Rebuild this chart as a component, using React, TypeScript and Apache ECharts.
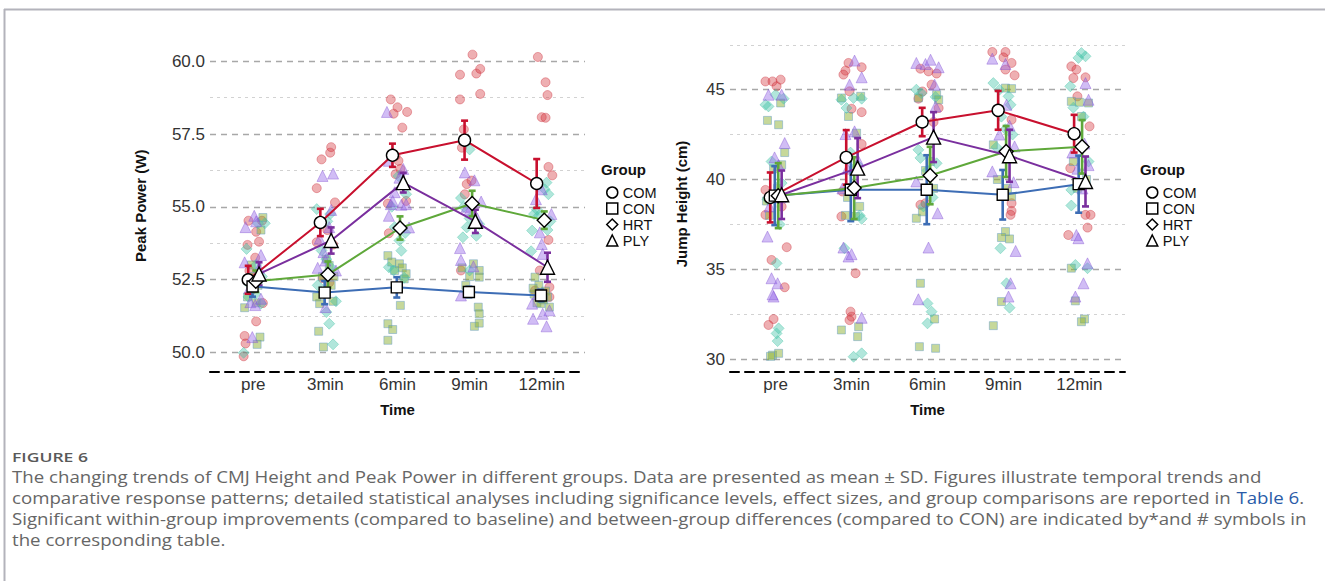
import React, { useEffect, useRef } from "react";
import * as echarts from "echarts";

// ---------- categories / groups ----------
const timePoints = ["pre", "3min", "6min", "9min", "12min"];
const groups = ["COM", "CON", "HRT", "PLY"];

// ---------- Peak Power (W): group means and SDs ----------
const ppMeanCOM = [52.49, 54.46, 56.77, 57.29, 55.8];
const ppMeanCON = [52.26, 52.05, 52.23, 52.07, 51.95];
const ppMeanHRT = [52.44, 52.67, 54.27, 55.11, 54.54];
const ppMeanPLY = [52.69, 53.84, 55.83, 54.5, 52.92];
const ppSdCOM = [0.48, 0.47, 0.4, 0.67, 0.84];
const ppSdCON = [0.35, 0.4, 0.35, 0.18, 0.2];
const ppSdHRT = [0.37, 0.45, 0.4, 0.44, 0.3];
const ppSdPLY = [0.4, 0.45, 0.34, 0.4, 0.5];

// ---------- Jump Height (cm): group means and SDs ----------
const jhMeanCOM = [39.0, 41.23, 43.2, 43.85, 42.55];
const jhMeanCON = [39.1, 39.43, 39.43, 39.15, 39.74];
const jhMeanHRT = [39.1, 39.52, 40.22, 41.56, 41.82];
const jhMeanPLY = [39.15, 40.63, 42.36, 41.32, 39.89];
const jhSdCOM = [1.39, 1.52, 0.79, 1.08, 1.05];
const jhSdCON = [1.64, 1.75, 1.92, 1.38, 1.59];
const jhSdHRT = [1.81, 1.72, 1.6, 1.42, 1.49];
const jhSdPLY = [1.35, 1.67, 1.39, 1.45, 1.39];

// ---------- individual points: [jitter (1/75 category), value] per time point ----------
const ppPtsCOM = [
  [[-5, 54.52], [9, 54.52], [3, 54.14], [6, 53.8], [-6, 53.69], [2, 53.25], [10, 51.69], [3, 51.06], [-9, 50.56], [-8, 50.3], [-10, 49.86], [-4, 52.8]],
  [[6, 57.05], [5, 56.86], [-4, 56.63], [-9, 55.64], [10, 55.15], [-6, 54.5], [2, 54.2], [-9, 53.78], [8, 53.7], [-3, 52.55], [4, 52.4]],
  [[-7, 58.69], [0, 58.42], [10, 58.26], [-4, 58.2], [5, 57.72], [-2, 56.75], [1, 56.58], [-2, 56.12], [-10, 55.11], [9, 55.2], [-9, 54.09], [3, 56.3]],
  [[3, 60.23], [-10, 59.54], [7, 59.58], [11, 59.74], [11, 58.88], [-10, 58.69], [-6, 57.66], [-8, 57.03], [-5, 55.43], [-3, 55.78], [-9, 52.81], [2, 55.9]],
  [[-4, 60.15], [4, 59.28], [6, 58.84], [0, 58.08], [4, 58.06], [7, 56.37], [11, 56.08], [7, 53.86], [-2, 52.81], [8, 52.24], [8, 51.9], [-7, 52.12]],
];
const ppPtsCON = [
  [[10, 54.63], [8, 54.2], [-9, 51.53], [3, 51.7], [7, 50.52], [4, 50.27], [-2, 53.0], [5, 52.3], [-6, 51.9], [1, 52.6]],
  [[-6, 51.67], [-7, 50.72], [-2, 50.18], [8, 51.75], [4, 52.98], [-3, 52.6], [6, 52.3], [-9, 51.9], [1, 53.2], [9, 52.6]],
  [[-10, 53.32], [2, 53.04], [-3, 52.81], [7, 52.52], [3, 51.61], [-10, 50.98], [-5, 50.78], [-10, 50.41], [5, 52.9], [-6, 53.1], [9, 52.7]],
  [[4, 53.04], [10, 52.81], [10, 52.58], [9, 51.55], [10, 51.32], [5, 50.89], [10, 51.0], [-4, 52.3], [-8, 52.9], [0, 52.6]],
  [[-7, 52.58], [-3, 52.3], [4, 52.1], [1, 51.84], [-5, 51.7], [-1, 51.67], [8, 51.55], [-8, 52.0], [6, 51.9], [2, 51.8], [-9, 52.2]],
];
const ppPtsHRT = [
  [[5, 54.43], [12, 54.43], [-7, 53.55], [8, 51.67], [-10, 49.98], [2, 52.0], [-3, 52.3], [9, 52.6], [-5, 51.9], [3, 53.0]],
  [[-9, 54.92], [5, 54.75], [2, 54.5], [1, 51.38], [4, 50.98], [8, 50.27], [11, 51.75], [-4, 53.5], [6, 52.9], [-8, 52.3], [1, 53.2]],
  [[1, 56.06], [9, 55.43], [-6, 55.0], [2, 53.84], [4, 53.49], [-9, 52.92], [-4, 52.81], [7, 52.56], [-3, 54.3], [8, 54.1]],
  [[-6, 57.32], [0, 56.97], [-6, 55.0], [0, 54.6], [-3, 54.29], [-7, 53.95], [7, 54.0], [0, 52.81], [10, 54.4], [-9, 55.3]],
  [[5, 55.83], [7, 55.43], [3, 55.6], [-8, 54.75], [-3, 54.7], [-10, 54.18], [-11, 53.47], [9, 54.5], [-5, 54.9], [6, 54.2]],
];
const ppPtsPLY = [
  [[1, 54.69], [-8, 54.3], [8, 53.34], [-9, 53.09], [-3, 51.72], [8, 51.84], [2, 51.62], [-1, 50.52], [6, 52.9], [-4, 52.2], [3, 54.5]],
  [[-3, 56.06], [8, 56.14], [6, 54.89], [-2, 53.44], [0, 53.15], [11, 52.81], [0, 51.55], [-6, 53.9], [4, 54.3], [-8, 52.9]],
  [[-11, 58.26], [-9, 56.58], [2, 56.0], [-7, 55.09], [4, 55.07], [9, 55.09], [-9, 54.69], [12, 54.29], [-3, 55.5], [6, 56.3], [-5, 55.2]],
  [[-5, 56.18], [5, 55.91], [12, 55.18], [0, 54.9], [-10, 53.58], [-9, 53.17], [4, 52.95], [-9, 51.95], [8, 54.6], [-3, 55.0]],
  [[0, 55.6], [-6, 55.26], [10, 54.75], [-2, 54.12], [0, 53.72], [1, 53.38], [-9, 51.15], [1, 51.32], [8, 51.44], [5, 50.89], [-10, 51.67], [-4, 52.0]],
];

const jhPtsCOM = [
  [[-10, 45.46], [-3, 45.46], [5, 45.56], [1, 45.19], [-10, 39.42], [6, 38.49], [-10, 38.03], [11, 36.23], [-4, 35.52], [9, 34.0], [-2, 32.23], [-7, 31.9]],
  [[-3, 46.49], [-6, 46.06], [10, 46.25], [-8, 45.84], [-2, 44.91], [0, 43.94], [10, 43.75], [10, 41.97], [-9, 39.33], [-10, 37.94], [-1, 32.64], [0, 32.36], [-2, 32.17], [4, 34.78]],
  [[-7, 46.17], [1, 46.02], [-5, 44.9], [4, 45.28], [11, 43.98], [-7, 38.59], [-2, 38.68], [9, 45.9], [-9, 44.5], [6, 43.2]],
  [[-11, 47.1], [2, 47.1], [0, 46.8], [8, 46.49], [2, 46.12], [11, 45.8], [8, 43.33], [8, 38.68], [8, 38.25], [7, 38.03]],
  [[-8, 46.3], [-3, 46.12], [-6, 45.65], [6, 45.69], [-2, 44.63], [10, 42.96], [-9, 40.63], [6, 38.03], [11, 38.03], [8, 37.32], [-11, 36.91]],
];
const jhPtsCON = [
  [[5, 44.26], [-8, 43.29], [3, 43.05], [6, 40.82], [-3, 30.22], [3, 30.32], [-5, 30.15], [-2, 40.6], [9, 41.5], [-6, 38.0], [2, 39.5], [-9, 38.8]],
  [[-10, 44.54], [9, 44.63], [-3, 43.51], [5, 42.58], [4, 37.94], [-10, 31.62], [7, 31.8], [6, 31.25], [-6, 38.0], [2, 40.5], [-4, 39.0], [8, 38.5]],
  [[-9, 44.54], [9, 44.72], [11, 44.44], [-11, 37.84], [-7, 34.22], [7, 32.23], [-8, 30.69], [8, 30.6], [-2, 40.5], [3, 41.0], [6, 39.5], [-5, 38.2]],
  [[-10, 41.93], [2, 45.09], [8, 45.06], [8, 39.05], [2, 37.1], [-2, 36.77], [6, 36.69], [-2, 33.2], [-10, 31.86], [4, 39.5], [-6, 40.0]],
  [[-8, 44.35], [0, 44.3], [9, 44.26], [2, 43.51], [-8, 35.06], [-4, 33.24], [5, 32.23], [2, 32.08], [-6, 41.0], [7, 40.0], [-2, 39.5]],
];
const jhPtsHRT = [
  [[-10, 44.16], [-7, 44.07], [0, 44.72], [8, 44.5], [1, 35.33], [3, 31.71], [1, 31.43], [2, 31.0], [-4, 41.0], [6, 39.8], [-8, 38.9], [4, 37.5]],
  [[-10, 44.44], [2, 44.54], [10, 44.5], [-5, 43.98], [10, 37.81], [-7, 36.17], [2, 30.13], [10, 30.32], [-3, 39.5], [6, 40.8], [-1, 41.5], [8, 38.0]],
  [[-11, 45.0], [-6, 44.8], [8, 44.6], [-9, 41.65], [0, 40.5], [5, 39.0], [-4, 38.5], [0, 33.1], [4, 32.64], [0, 31.99], [9, 40.9], [-7, 41.2]],
  [[-10, 45.37], [-4, 45.0], [5, 44.63], [7, 44.16], [-2, 43.5], [9, 42.5], [-7, 41.8], [-3, 36.17], [3, 34.22], [6, 32.86], [2, 42.8]],
  [[2, 47.04], [-1, 46.77], [6, 46.86], [-9, 45.19], [-8, 39.42], [-8, 38.55], [-4, 35.24], [8, 35.06], [-6, 44.0], [4, 43.5], [9, 41.0]],
];
const jhPtsPLY = [
  [[-7, 44.72], [6, 44.72], [9, 42.03], [-1, 41.23], [3, 40.8], [-8, 36.82], [-4, 34.5], [2, 34.22], [-2, 33.48], [-3, 33.6], [5, 39.0], [-6, 38.5]],
  [[3, 46.62], [10, 45.69], [-2, 45.28], [-6, 42.53], [3, 42.68], [-8, 36.21], [-3, 35.71], [0, 35.84], [10, 32.3], [-4, 40.6], [7, 41.0], [-9, 39.5]],
  [[-11, 46.49], [-2, 46.43], [3, 46.67], [11, 46.25], [7, 45.28], [8, 44.07], [-11, 39.89], [10, 38.12], [1, 36.21], [-9, 33.33]],
  [[-11, 46.73], [2, 46.43], [3, 44.16], [11, 41.84], [-11, 40.45], [10, 39.85], [12, 36.02], [7, 34.22], [5, 33.48], [-4, 42.5], [6, 43.0]],
  [[6, 45.37], [9, 44.44], [-3, 36.91], [-1, 36.73], [8, 35.33], [4, 34.22], [-4, 33.48], [-2, 40.6], [9, 40.8], [3, 39.5], [-7, 41.5], [5, 42.0]],
];

// ---------- axis ticks ----------
const ppMajorTicks = [50, 52.5, 55, 57.5, 60];
const ppMinorTicks = [51.25, 53.75, 56.25, 58.75];
const jhMajorTicks = [30, 35, 40, 45];
const jhMinorTicks = [32.5, 37.5, 42.5, 47.5];

// ---------- caption ----------
const captionTitle = "FIGURE 6";
const captionLines = [
  "The changing trends of CMJ Height and Peak Power in different groups. Data are presented as mean \u00b1 SD. Figures illustrate temporal trends and",
  "comparative response patterns; detailed statistical analyses including significance levels, effect sizes, and group comparisons are reported in ",
  "Significant within-group improvements (compared to baseline) and between-group differences (compared to CON) are indicated by*and # symbols in",
  "the corresponding table.",
];
const captionLink = "Table 6";

// ---------- styles ----------
const lineColors = ["#c8102e", "#3d6db5", "#5fa83a", "#7a2f9e"];
const pointFills = ["rgba(212,54,63,0.5)", "rgba(140,176,50,0.62)", "rgba(60,192,165,0.5)", "rgba(150,105,232,0.55)"];
const pointBorders = ["rgba(200,30,45,0.45)", "rgba(90,150,200,0.55)", "rgba(80,200,170,0.55)", "rgba(130,80,210,0.5)"];
const symbols = ["circle", "rect", "diamond", "triangle"];
const pointSizes = [9, 8, 11, 11];
const meanSizes = [12, 11, 14, 14];
const dodge = [-0.07, -0.01, 0.035, 0.08];
const FONT = "'Liberation Sans', Arial, Helvetica, sans-serif";

function measure(text: string, font: string) {
  const c = document.createElement("canvas").getContext("2d");
  if (!c) return 1;
  c.font = font;
  return c.measureText(text).width;
}

function panelSeries(gi: number, means: number[][], sds: number[][], pts: number[][][][], major: number[], minor: number[]) {
  const out: any[] = [];
  out.push({
    type: "line",
    xAxisIndex: gi,
    yAxisIndex: gi,
    data: [],
    silent: true,
    z: 0,
    markLine: {
      silent: true,
      z: 0,
      symbol: "none",
      label: { show: false },
      animation: false,
      data: [
        ...major.map((v) => ({ yAxis: v, lineStyle: { type: [6, 5], color: "#a8a8a8", width: 1.4 } })),
        ...minor.map((v) => ({ yAxis: v, lineStyle: { type: [3, 4], color: "#d2d2d2", width: 1 } })),
      ],
    },
  });
  groups.forEach((g, k) => {
    out.push({
      type: "scatter",
      name: g + " points",
      xAxisIndex: gi,
      yAxisIndex: gi,
      symbol: symbols[k],
      symbolSize: pointSizes[k],
      z: 2,
      itemStyle: { color: pointFills[k], borderColor: pointBorders[k], borderWidth: 1 },
      data: pts[k].flatMap((col, i) => col.map(([dx, v]) => [i + dx / 75, v])),
    });
  });
  groups.forEach((g, k) => {
    out.push({
      type: "custom",
      name: g + " sd",
      xAxisIndex: gi,
      yAxisIndex: gi,
      z: 4,
      encode: { x: 0, y: [1, 2] },
      data: means[k].map((m, i) => [i + dodge[k], m - sds[k][i], m + sds[k][i]]),
      renderItem: (params: any, api: any) => {
        const x = api.value(0);
        const lo = api.coord([x, api.value(1)]);
        const hi = api.coord([x, api.value(2)]);
        const w = 3.5;
        const style = { stroke: lineColors[k], lineWidth: 2.6 };
        return {
          type: "group",
          children: [
            { type: "line", shape: { x1: lo[0], y1: lo[1], x2: hi[0], y2: hi[1] }, style },
            { type: "line", shape: { x1: lo[0] - w, y1: lo[1], x2: lo[0] + w, y2: lo[1] }, style },
            { type: "line", shape: { x1: hi[0] - w, y1: hi[1], x2: hi[0] + w, y2: hi[1] }, style },
          ],
        };
      },
    });
  });
  groups.forEach((g, k) => {
    out.push({
      type: "line",
      name: g,
      xAxisIndex: gi,
      yAxisIndex: gi,
      z: 5,
      symbol: symbols[k],
      symbolSize: meanSizes[k],
      showAllSymbol: true,
      itemStyle: { color: "#ffffff", borderColor: "#000000", borderWidth: 1.4 },
      lineStyle: { color: lineColors[k], width: 2 },
      data: means[k].map((m, i) => [i + dodge[k], m]),
    });
  });
  return out;
}

export default function App() {
  const ref = useRef<HTMLDivElement>(null);
  useEffect(() => {
    if (!ref.current) return;
    const chart = echarts.init(ref.current, null, { renderer: "svg" });

    const capFont = "16px 'Open Sans'";
    const capScale = 1250 / measure(captionLines[0], capFont);
    const titleScale = 76 / measure(captionTitle, "600 13px 'Open Sans'");

    const xAxisBase = (gi: number) => ({
      type: "value",
      gridIndex: gi,
      min: -0.6,
      max: 4.6,
      name: "Time",
      nameLocation: "middle",
      nameGap: 30,
      nameTextStyle: { fontFamily: FONT, fontWeight: "bold", fontSize: 15, color: "#111" },
      axisLine: { show: true, onZero: false, lineStyle: { color: "#000", width: 2, type: [9, 6] } },
      axisTick: { show: false },
      splitLine: { show: false },
      axisLabel: {
        customValues: [0, 1, 2, 3, 4],
        formatter: (v: number) => timePoints[Math.round(v)],
        fontFamily: FONT,
        fontSize: 17,
        color: "#333",
        margin: 4,
      },
    });

    const legendData = groups.map((g, k) => ({
      name: g,
      icon: symbols[k],
      itemStyle: { color: "#ffffff", borderColor: "#000000", borderWidth: 1.5 },
    }));

    const legendBase = (left: number) => ({
      orient: "vertical",
      left,
      top: 180,
      itemWidth: 11,
      itemHeight: 11,
      itemGap: 1,
      selectedMode: false,
      textStyle: { fontFamily: FONT, fontSize: 14.5, color: "#111", lineHeight: 14 },
      data: legendData,
    });

    const option: any = {
      animation: false,
      backgroundColor: "#ffffff",
      grid: [
        { left: 210, top: 39.5, width: 375, height: 332.5 },
        { left: 730, top: 36, width: 395, height: 336 },
      ],
      xAxis: [xAxisBase(0), xAxisBase(1)],
      yAxis: [
        {
          type: "value",
          gridIndex: 0,
          min: 49.32,
          max: 60.75,
          name: "Peak Power (W)",
          nameLocation: "middle",
          nameGap: 62,
          nameTextStyle: { fontFamily: FONT, fontWeight: "bold", fontSize: 15, color: "#111" },
          axisLine: { show: false },
          axisTick: { show: false },
          splitLine: { show: false },
          axisLabel: {
            customValues: ppMajorTicks,
            formatter: (v: number) => v.toFixed(1),
            fontFamily: FONT,
            fontSize: 17,
            color: "#333",
            margin: 5,
          },
        },
        {
          type: "value",
          gridIndex: 1,
          min: 29.28,
          max: 47.99,
          name: "Jump Height (cm)",
          nameLocation: "middle",
          nameGap: 41,
          nameTextStyle: { fontFamily: FONT, fontWeight: "bold", fontSize: 15, color: "#111" },
          axisLine: { show: false },
          axisTick: { show: false },
          splitLine: { show: false },
          axisLabel: {
            customValues: jhMajorTicks,
            formatter: (v: number) => String(v),
            fontFamily: FONT,
            fontSize: 17,
            color: "#333",
            margin: 5,
          },
        },
      ],
      legend: [legendBase(601), legendBase(1141)],
      graphic: [
        { type: "line", shape: { x1: 4, y1: 9.5, x2: 1325, y2: 9.5 }, style: { stroke: "#b3b3bb", lineWidth: 2 }, silent: true },
        { type: "line", shape: { x1: 4.5, y1: 9, x2: 4.5, y2: 581 }, style: { stroke: "#b3b3bb", lineWidth: 2 }, silent: true },
        {
          type: "text",
          left: 601,
          top: 162,
          style: { text: "Group", fontFamily: FONT, fontWeight: "bold", fontSize: 15, fill: "#111" },
        },
        {
          type: "text",
          left: 1140,
          top: 162,
          style: { text: "Group", fontFamily: FONT, fontWeight: "bold", fontSize: 15, fill: "#111" },
        },
        {
          type: "text",
          x: 12,
          y: 457,
          scaleX: titleScale,
          style: {
            text: captionTitle,
            fontFamily: "'Open Sans'",
            fontWeight: 600,
            fontSize: 13,
            fill: "#595959",
            verticalAlign: "middle",
          },
        },
        ...captionLines.map((t, i) => ({
          type: "text",
          x: 12,
          y: 477 + i * 21,
          scaleX: capScale,
          style: {
            text: i === 1 ? t + "{link|" + captionLink + "}." : t,
            fontFamily: "'Open Sans'",
            fontSize: 16,
            fill: "#666666",
            verticalAlign: "middle",
            rich: {
              link: { fontFamily: "'Open Sans'", fontSize: 16, fill: "#2a5ba8" },
            },
          },
        })),
      ],
      series: [
        ...panelSeries(0, [ppMeanCOM, ppMeanCON, ppMeanHRT, ppMeanPLY], [ppSdCOM, ppSdCON, ppSdHRT, ppSdPLY], [ppPtsCOM, ppPtsCON, ppPtsHRT, ppPtsPLY] as any, ppMajorTicks, ppMinorTicks),
        ...panelSeries(1, [jhMeanCOM, jhMeanCON, jhMeanHRT, jhMeanPLY], [jhSdCOM, jhSdCON, jhSdHRT, jhSdPLY], [jhPtsCOM, jhPtsCON, jhPtsHRT, jhPtsPLY] as any, jhMajorTicks, jhMinorTicks),
      ],
    };
    chart.setOption(option);
    return () => chart.dispose();
  }, []);
  return (
    <div
      ref={ref}
      style={{ position: "fixed", left: 0, top: 0, width: 1325, height: 581, background: "#fff" }}
    />
  );
}
